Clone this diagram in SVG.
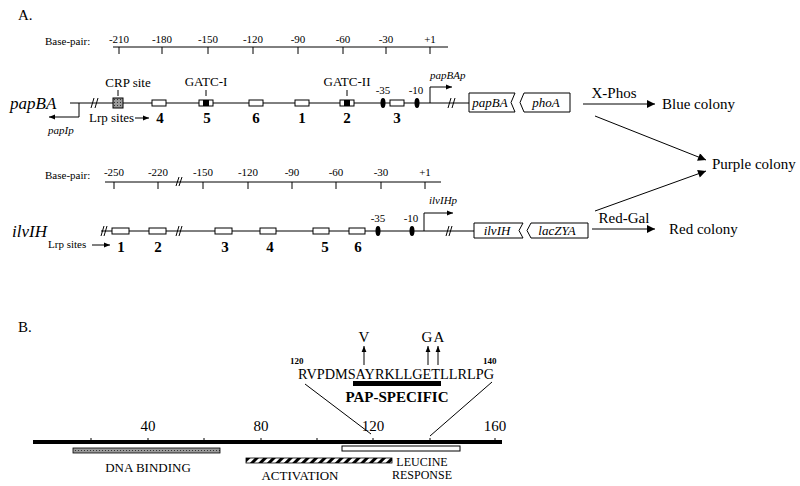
<svg xmlns="http://www.w3.org/2000/svg" width="800" height="486" viewBox="0 0 800 486">
<defs>
<marker id="ah" viewBox="0 0 10 10" refX="10" refY="5" markerWidth="8" markerHeight="6" orient="auto" markerUnits="userSpaceOnUse"><path d="M0,1 L10,5 L0,9 z" fill="#000"/></marker>
<marker id="ahb" viewBox="0 0 10 10" refX="10" refY="5" markerWidth="12" markerHeight="8" orient="auto" markerUnits="userSpaceOnUse"><path d="M0,0 L10,5 L0,10 z" fill="#000"/></marker>
<pattern id="dots" width="3" height="3" patternUnits="userSpaceOnUse"><rect width="3" height="3" fill="#999"/><rect width="1" height="1" fill="#333"/></pattern>
<pattern id="stripe" width="6" height="6" patternUnits="userSpaceOnUse" patternTransform="rotate(45)"><rect width="6" height="6" fill="#fff"/><rect width="3" height="6" fill="#000"/></pattern>
</defs>
<style>
text{font-family:"Liberation Serif",serif;fill:#000}
.s{font-size:11px}.m{font-size:13px}.l{font-size:15px}.xl{font-size:17px}
.i{font-style:italic}.b{font-weight:bold}
.ln{stroke:#000;stroke-width:1;fill:none}
.bx{fill:#fff;stroke:#000;stroke-width:1}
</style>
<rect width="800" height="486" fill="#fff"/>
<text x="18" y="20" class="l">A.</text>
<text x="18" y="332" class="l">B.</text>

<g id="ruler1">
<text x="45" y="45" class="s">Base-pair:</text>
<path class="ln" d="M113,47H448M119,47v7M162,47v7M208,47v7M253,47v7M298,47v7M343,47v7M386,47v7M430,47v7"/>
<g class="s" text-anchor="middle"><text x="119" y="43">-210</text><text x="162" y="43">-180</text><text x="208" y="43">-150</text><text x="253" y="43">-120</text><text x="298" y="43">-90</text><text x="343" y="43">-60</text><text x="386" y="43">-30</text><text x="430" y="43">+1</text></g>
</g>

<g id="papBA">
<text x="10" y="109" class="xl i">papBA</text>
<path class="ln" d="M70,103H469"/>
<path class="ln" d="M91,108l3,-10M95,108l3,-10M448,108l3,-10M452,108l3,-10"/>
<path class="ln" d="M79,103v14H49" marker-end="url(#ah)"/>
<text x="48" y="134" class="s i">papIp</text>
<rect x="113" y="98" width="10" height="10" fill="url(#dots)" stroke="#000"/>
<path class="ln" d="M118,90v6"/>
<text x="128" y="87" class="m" text-anchor="middle">CRP site</text>
<rect class="bx" x="152" y="100" width="14" height="6"/>
<rect class="bx" x="199" y="100" width="14" height="6"/><rect x="203" y="100" width="6" height="6"/>
<rect class="bx" x="249" y="100" width="14" height="6"/>
<rect class="bx" x="295" y="100" width="14" height="6"/>
<rect class="bx" x="340" y="100" width="14" height="6"/><rect x="344" y="100" width="6" height="6"/>
<rect class="bx" x="390" y="100" width="14" height="6"/>
<ellipse cx="383" cy="103" rx="2.5" ry="5"/><ellipse cx="417" cy="103" rx="2.5" ry="5"/>
<path class="ln" d="M206,90v6M347,90v6"/>
<text x="206" y="86" class="m" text-anchor="middle">GATC-I</text>
<text x="347" y="86" class="m" text-anchor="middle">GATC-II</text>
<text x="383" y="94" class="s" text-anchor="middle">-35</text>
<text x="416" y="94" class="s" text-anchor="middle">-10</text>
<path class="ln" d="M430,103V87H452" marker-end="url(#ah)"/>
<text x="430" y="79" class="s i">papBAp</text>
<text x="89" y="122" class="m">Lrp sites</text>
<path class="ln" d="M135,118H149" marker-end="url(#ah)"/>
<g class="l b" text-anchor="middle"><text x="160" y="123">4</text><text x="207" y="123">5</text><text x="256" y="123">6</text><text x="302" y="123">1</text><text x="347" y="123">2</text><text x="397" y="123">3</text></g>
</g>

<g id="fusion1">
<path class="bx" d="M469,93H515L511,102.5L515,112H469Z"/>
<path class="bx" d="M570,93H524L520,102.5L524,112H570Z"/>
<text x="490" y="107" class="m i" text-anchor="middle">papBA</text>
<text x="546" y="107" class="m i" text-anchor="middle">phoA</text>
</g>

<g id="ruler2">
<text x="45" y="179" class="s">Base-pair:</text>
<path class="ln" d="M105,182H441M114,182v7M158,182v7M203,182v7M248,182v7M292,182v7M336,182v7M381,182v7M425,182v7M176,186l3,-9M179,186l3,-9"/>
<g class="s" text-anchor="middle"><text x="114" y="176">-250</text><text x="158" y="176">-220</text><text x="203" y="176">-150</text><text x="248" y="176">-120</text><text x="292" y="176">-90</text><text x="336" y="176">-60</text><text x="381" y="176">-30</text><text x="425" y="176">+1</text></g>
</g>

<g id="ilvIH">
<text x="12" y="237" class="xl i">ilvIH</text>
<path class="ln" d="M101,231H474"/>
<path class="ln" d="M101,236l3,-10M104,236l3,-10M176,236l3,-10M179,236l3,-10M446,236l3,-10M449,236l3,-10"/>
<rect class="bx" x="112" y="228" width="17" height="6"/>
<rect class="bx" x="149" y="228" width="17" height="6"/>
<rect class="bx" x="215" y="228" width="17" height="6"/>
<rect class="bx" x="260" y="228" width="16" height="6"/>
<rect class="bx" x="313" y="228" width="16" height="6"/>
<rect class="bx" x="349" y="228" width="16" height="6"/>
<ellipse cx="378" cy="231" rx="2.5" ry="5"/><ellipse cx="412" cy="231" rx="2.5" ry="5"/>
<text x="378" y="222" class="s" text-anchor="middle">-35</text>
<text x="411" y="222" class="s" text-anchor="middle">-10</text>
<path class="ln" d="M424,231V213H453" marker-end="url(#ah)"/>
<text x="429" y="204" class="s i">ilvIHp</text>
<text x="48" y="248" class="s">Lrp sites</text>
<path class="ln" d="M92,245H110" marker-end="url(#ah)"/>
<g class="l b" text-anchor="middle"><text x="121" y="252">1</text><text x="158" y="252">2</text><text x="225" y="252">3</text><text x="270" y="252">4</text><text x="325" y="252">5</text><text x="358" y="252">6</text></g>
</g>

<g id="fusion2">
<path class="bx" d="M474,223H523L519,230.5L523,238H474Z"/>
<path class="bx" d="M588,223H531L527,230.5L531,238H588Z"/>
<text x="497" y="235" class="m i" text-anchor="middle">ilvIH</text>
<text x="557" y="235" class="m i" text-anchor="middle">lacZYA</text>
</g>

<g id="connectors">
<path class="ln" d="M583,104H655" marker-end="url(#ahb)"/>
<path class="ln" d="M595,116L706,160" marker-end="url(#ahb)"/>
<path class="ln" d="M595,211L706,171" marker-end="url(#ahb)"/>
<path class="ln" d="M592,229H655" marker-end="url(#ahb)"/>
</g>
<g id="outcomes" class="l">
<text x="614" y="98" text-anchor="middle">X-Phos</text>
<text x="662" y="109">Blue colony</text>
<text x="712" y="169">Purple colony</text>
<text x="624" y="223" text-anchor="middle">Red-Gal</text>
<text x="669" y="234">Red colony</text>
</g>

<g id="partB">
<path d="M33,442H502" stroke="#000" stroke-width="4"/>
<path class="ln" d="M91,438v4M148,438v4M204,438v4M261,438v4M317,438v4M373,438v4M430,438v4M495,438v4"/>
<g class="l" text-anchor="middle"><text x="148" y="431">40</text><text x="261" y="431">80</text><text x="373" y="431">120</text><text x="495" y="431">160</text></g>
<rect x="73" y="448" width="147" height="5" fill="url(#dots)" stroke="#000" stroke-width="0.8"/>
<text x="148" y="472" class="m" text-anchor="middle">DNA BINDING</text>
<rect x="246" y="458" width="146" height="5" fill="url(#stripe)" stroke="#000" stroke-width="0.8"/>
<text x="300" y="480" class="m" text-anchor="middle">ACTIVATION</text>
<rect class="bx" x="342" y="446" width="118" height="5"/>
<text x="422" y="466" text-anchor="middle" style="font-size:12px">LEUCINE</text>
<text x="422" y="479" text-anchor="middle" style="font-size:12px">RESPONSE</text>
<path class="ln" d="M305,384L371,434M492,382L430,436"/>
<text x="298" y="379" class="l" textLength="196" lengthAdjust="spacingAndGlyphs">RVPDMSAYRKLLGETLLRLPG</text>
<text x="290" y="364" class="b" style="font-size:9px">120</text>
<text x="483" y="364" class="b" style="font-size:9px">140</text>
<rect x="353" y="381" width="88" height="5"/>
<text x="397" y="402" class="l b" text-anchor="middle">PAP-SPECIFIC</text>
<path class="ln" d="M364,365V346" marker-end="url(#ah)"/>
<path class="ln" d="M428,365V346" marker-end="url(#ah)"/>
<path class="ln" d="M438,365V346" marker-end="url(#ah)"/>
<text x="364" y="342" class="l" text-anchor="middle">V</text>
<text x="427" y="342" class="l" text-anchor="middle">G</text>
<text x="439" y="342" class="l" text-anchor="middle">A</text>
</g>
</svg>
